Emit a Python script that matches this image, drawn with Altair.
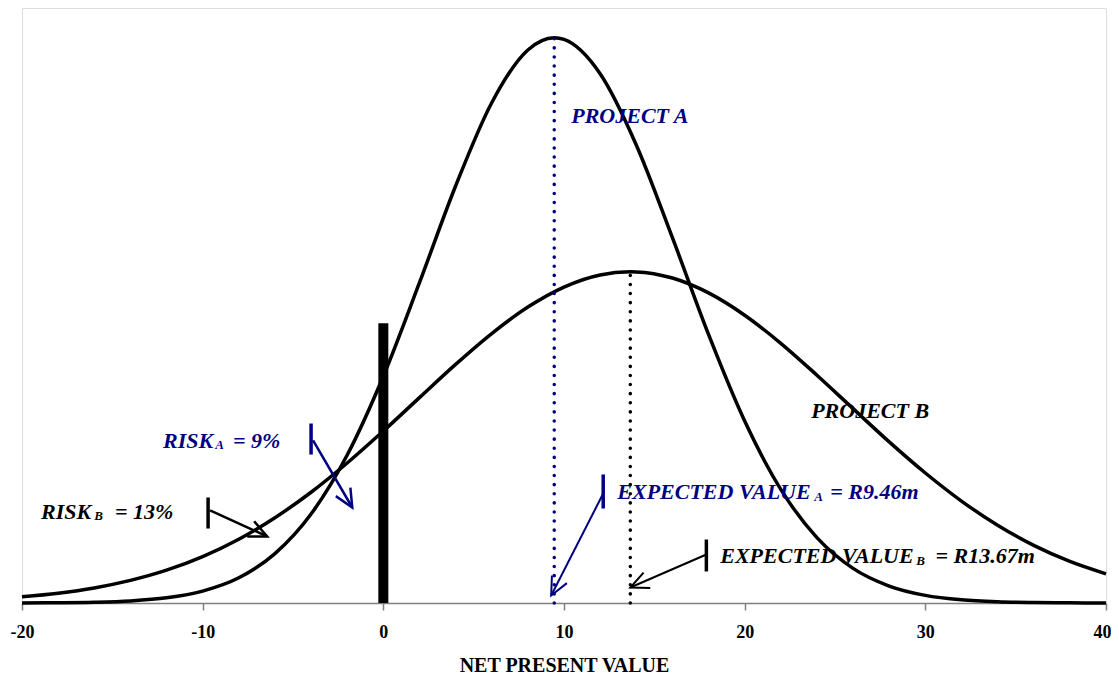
import math
import altair as alt
import pandas as pd

# ---- data (NPV in R millions, curve heights in relative units) ----
npv_a = [-20, -18, -16, -14, -12, -10, -8, -6, -4, -2, 0, 2, 4, 6, 8, 9.46, 10, 12, 14, 16,
         18, 20, 22, 24, 26, 28, 30, 32, 34, 36, 38, 40]
height_a = [0.008, 0.026, 0.076, 0.207, 0.52, 1.20, 2.54, 4.98, 8.97, 14.92, 22.87, 32.30,
            42.05, 50.45, 55.77, 57.0, 56.83, 53.37, 46.19, 36.84, 27.08, 18.35, 11.46, 6.59,
            3.49, 1.71, 0.77, 0.32, 0.12, 0.043, 0.014, 0.004]

npv_b = [-20, -18, -16, -14, -12, -10, -8, -6, -4, -2, 0, 2, 4, 6, 8, 10, 12, 13.67, 14, 16,
         18, 20, 22, 24, 26, 28, 30, 32, 34, 36, 38, 40]
height_b = [0.63, 0.99, 1.52, 2.28, 3.31, 4.68, 6.43, 8.60, 11.17, 14.12, 17.34, 20.71, 24.06,
            27.17, 29.84, 31.86, 33.08, 33.40, 33.39, 32.77, 31.27, 29.02, 26.19, 22.97, 19.60,
            16.25, 13.11, 10.28, 7.84, 5.81, 4.19, 2.94]

x_ticks = [-20, -10, 0, 10, 20, 30, 40]

ev_a = 9.46
ev_a_top = 57.4
ev_b = 13.67
ev_b_top = 33.4
zero_bar_top = 28.2

NAVY = "#000080"
BLACK = "#000000"

# annotation text pieces: (text, x, y, font size, colour)
label_text = ["PROJECT A", "PROJECT B",
              "RISK", "A", "= 9%",
              "RISK", "B", "= 13%",
              "EXPECTED VALUE", "A", "= R9.46m",
              "EXPECTED VALUE", "B", "= R13.67m"]
label_x = [10.40, 23.68,
           -12.19, -9.31, -8.32,
           -18.95, -16.0, -14.85,
           12.95, 23.85, 24.74,
           18.65, 29.50, 30.56]
label_y = [48.45, 18.61,
           15.68, 15.48, 15.68,
           8.52, 8.32, 8.52,
           10.44, 10.24, 10.44,
           4.08, 3.88, 4.08]
label_size = [22, 22, 22, 13, 22, 22, 13, 22, 22, 13, 22, 22, 13, 22]
label_color = [NAVY, BLACK, NAVY, NAVY, NAVY, BLACK, BLACK, BLACK,
               NAVY, NAVY, NAVY, BLACK, BLACK, BLACK]

# callout arrows: short vertical bar at the start, shaft to the tip
arrow_bar_x = [-4.0, -9.70, 12.17, 17.88]
arrow_bar_y1 = [18.10, 10.64, 12.96, 6.40]
arrow_bar_y2 = [14.97, 7.51, 9.53, 3.18]
arrow_start_x = [-3.89, -9.59, 12.17, 17.88]
arrow_start_y = [16.39, 9.33, 11.04, 4.89]
arrow_tip_x = [-1.72, -6.43, 9.29, 13.67]
arrow_tip_y = [9.63, 6.71, 0.76, 1.56]
arrow_color = [NAVY, BLACK, NAVY, BLACK]
arrow_width = [2.5, 2.5, 2.0, 2.0]

# ---- layout ----
W, H = 1084, 595
X_DOM = [-20, 40]
Y_DOM = [0, 60]
PXX = W / (X_DOM[1] - X_DOM[0])
PXY = H / (Y_DOM[1] - Y_DOM[0])

curves = pd.concat([
    pd.DataFrame({"npv": npv_a, "h": height_a, "project": "A"}),
    pd.DataFrame({"npv": npv_b, "h": height_b, "project": "B"}),
])

labels = pd.DataFrame({"text": label_text, "x": label_x, "y": label_y,
                       "size": label_size, "color": label_color})

angles = []
for sx, sy, tx, ty in zip(arrow_start_x, arrow_start_y, arrow_tip_x, arrow_tip_y):
    dxp = (tx - sx) * PXX
    dyp = -(ty - sy) * PXY
    angles.append(math.degrees(math.atan2(dxp, -dyp)) % 360)

arrows = pd.DataFrame({
    "bx": arrow_bar_x, "by1": arrow_bar_y1, "by2": arrow_bar_y2,
    "sx": arrow_start_x, "sy": arrow_start_y,
    "tx": arrow_tip_x, "ty": arrow_tip_y,
    "color": arrow_color, "w": arrow_width, "angle": angles,
})

xs = alt.Scale(domain=X_DOM, nice=False, zero=False)
ys = alt.Scale(domain=Y_DOM, nice=False, zero=False)

last_tick = "datum.value == %d" % x_ticks[-1]
x_axis = alt.Axis(values=x_ticks, grid=False, title="NET PRESENT VALUE",
                  labelExpr="replace(datum.label, '\u2212', '-')",
                  labelFont="Liberation Serif", labelFontWeight="bold", labelFontSize=18,
                  labelColor="black", labelPadding=13, labelFlush=False,
                  labelAlign={"condition": {"test": last_tick, "value": "right"}, "value": "center"},
                  labelOffset={"condition": {"test": last_tick, "value": 5}, "value": 0},
                  domainColor="#808080", domainWidth=1.5, tickColor="#808080", tickWidth=1.5,
                  tickSize=7, titleFont="Liberation Serif", titleFontSize=20,
                  titleFontWeight="bold", titleColor="black", titlePadding=14)

lines = alt.Chart(curves).mark_line(color="black", strokeWidth=3.5, interpolate="monotone").encode(
    x=alt.X("npv:Q", scale=xs, axis=x_axis),
    y=alt.Y("h:Q", scale=ys, axis=None),
    detail="project:N",
)

ev_df = pd.DataFrame({"x": [ev_a, ev_b], "top": [ev_a_top, ev_b_top],
                      "base": [0, 0], "color": [NAVY, BLACK]})
ev_lines = alt.Chart(ev_df).mark_rule(strokeDash=[0.1, 9], strokeCap="round", strokeWidth=3.5).encode(
    x="x:Q", y=alt.Y("base:Q", scale=ys), y2="top:Q",
    color=alt.Color("color:N", scale=None),
)

zero_df = pd.DataFrame({"x": [0], "base": [0], "top": [zero_bar_top]})
zero_bar = alt.Chart(zero_df).mark_rule(color="black", strokeWidth=10).encode(
    x="x:Q", y=alt.Y("base:Q", scale=ys), y2="top:Q",
)

text_layer = alt.Chart(labels).mark_text(
    align="left", baseline="alphabetic", font="Liberation Serif",
    fontStyle="italic", fontWeight="bold",
).encode(
    x="x:Q", y=alt.Y("y:Q", scale=ys), text="text:N",
    size=alt.Size("size:Q", scale=None),
    color=alt.Color("color:N", scale=None),
)

bars = alt.Chart(arrows).mark_rule(strokeWidth=3.5).encode(
    x="bx:Q", y=alt.Y("by1:Q", scale=ys), y2="by2:Q",
    color=alt.Color("color:N", scale=None),
)
shafts = alt.Chart(arrows).mark_rule().encode(
    x="sx:Q", y=alt.Y("sy:Q", scale=ys), x2="tx:Q", y2="ty:Q",
    color=alt.Color("color:N", scale=None),
    strokeWidth=alt.StrokeWidth("w:Q", scale=None),
)
heads = alt.Chart(arrows).mark_point(
    shape="M-0.42,0.906L0,0L0.42,0.906", filled=False, size=1600, opacity=1,
).encode(
    x="tx:Q", y=alt.Y("ty:Q", scale=ys),
    angle=alt.Angle("angle:Q", scale=None),
    color=alt.Color("color:N", scale=None),
    strokeWidth=alt.StrokeWidth("w:Q", scale=None),
)

chart = alt.layer(lines, ev_lines, zero_bar, bars, shafts, heads, text_layer).properties(
    width=W, height=H,
    autosize=alt.AutoSizeParams(type="none"),
    padding={"left": 14, "top": 0, "right": 5, "bottom": 74},
).configure_view(
    stroke="#a0a0a0", strokeWidth=1.5,
).configure(background="white")

chart.save("out.html", embed_options={"renderer": "svg", "actions": False})
